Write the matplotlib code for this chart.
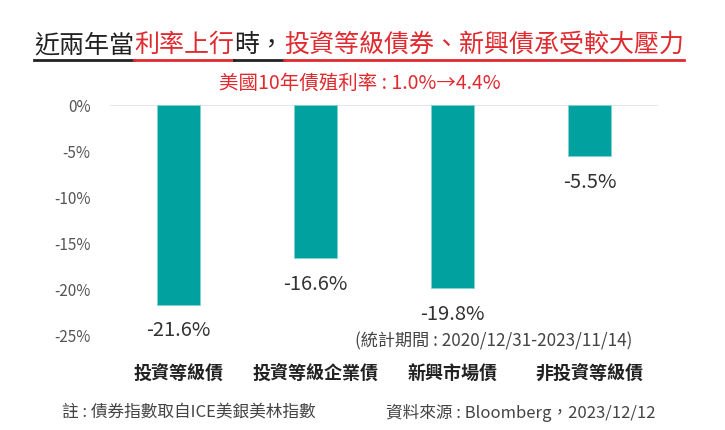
import matplotlib
matplotlib.use("Agg")
import matplotlib.pyplot as plt
from matplotlib.lines import Line2D

plt.rcParams['font.family'] = ['Noto Sans CJK TC', 'DejaVu Sans']

categories = ['投資等級債', '投資等級企業債', '新興市場債', '非投資等級債']
returns = [-21.6, -16.6, -19.8, -5.5]
yticks = [0, -5, -10, -15, -20, -25]
ytick_labels = ['0%', '-5%', '-10%', '-15%', '-20%', '-25%']

title_parts = [
    ('近兩年當', '#222222'),
    ('利率上行', '#e02a2f'),
    ('時，', '#222222'),
    ('投資等級債券、新興債承受較大壓力', '#e02a2f'),
]
subtitle = '美國10年債殖利率 : 1.0%→4.4%'
period_note = '(統計期間 : 2020/12/31-2023/11/14)'
note_left = '註 : 債券指數取自ICE美銀美林指數'
note_right = '資料來源 : Bloomberg，2023/12/12'

BAR_COLOR = '#00a19e'
RED = '#e02a2f'

fig = plt.figure(figsize=(7.25, 4.3), dpi=100)
ax = fig.add_axes([110 / 725, 94 / 430, 548 / 725, 231 / 430])

x = list(range(len(categories)))
ax.bar(x, returns, width=0.31, color=BAR_COLOR, edgecolor='#7fd6d4',
       linewidth=0.6)
ax.axhline(0, color='#e2e2e2', linewidth=1.2, zorder=0)

for xi, v in zip(x, returns):
    ax.annotate('{:.1f}%'.format(v), (xi, v), xytext=(0, -19),
                textcoords='offset points', ha='center', va='center',
                fontsize=14.5, color='#333333')

ax.set_xlim(-0.5, 3.5)
ax.set_ylim(-25, 0)
ax.set_yticks(yticks)
ax.set_yticklabels(ytick_labels, fontsize=11, color='#555555')
ax.tick_params(axis='y', length=0, pad=14)
ax.set_xticks(x)
ax.set_xticklabels(categories, fontsize=13, fontweight='bold',
                   color='#222222')
ax.tick_params(axis='x', length=0, pad=20)
for s in ax.spines.values():
    s.set_visible(False)

fig.text(494 / 725, 1 - 341 / 430, period_note, ha='center', va='center',
         fontsize=12.3, color='#444444')

# multi-coloured, underlined title
fig.canvas.draw()
renderer = fig.canvas.get_renderer()
texts = []
xpos = 0
for part, color in title_parts:
    t = fig.text(xpos, 1 - 45 / 430, part, fontsize=18, color=color,
                 ha='left', va='center', fontweight='medium')
    fig.canvas.draw()
    bb = t.get_window_extent(renderer)
    xpos += bb.width / 725
    texts.append(t)
total = xpos
start = (30 + 688) / 2 / 725 - total / 2
for t in texts:
    t.set_x(t.get_position()[0] + start)
fig.canvas.draw()
for t, (part, color) in zip(texts, title_parts):
    bb = t.get_window_extent(renderer)
    y0 = 1 - 60 / 430
    fig.add_artist(Line2D([bb.x0 / 725, bb.x1 / 725], [y0, y0],
                          color=color, linewidth=2,
                          transform=fig.transFigure))

fig.text(360 / 725, 1 - 83 / 430, subtitle, fontsize=14, color=RED,
         ha='center', va='center', fontweight='medium')

fig.text(62 / 725, 1 - 413 / 430, note_left, fontsize=12, color='#444444',
         ha='left', va='center')
fig.text(655 / 725, 1 - 413 / 430, note_right, fontsize=12, color='#444444',
         ha='right', va='center')

fig.savefig('out.png', dpi=100)
